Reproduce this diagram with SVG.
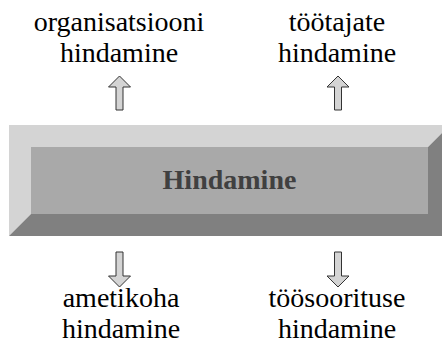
<svg xmlns="http://www.w3.org/2000/svg" width="442" height="352" viewBox="0 0 442 352">
<style>
.arrow{fill:#d4d4d4;stroke:#333;stroke-width:1;stroke-linejoin:miter}
</style>
<rect width="442" height="352" fill="#fff"/>
<g id="hindamine">
<polygon points="9,125 450,125 428,147 31,147 31,214 9,236" fill="#d4d4d4"/>
<polygon points="450,125 450,236 9,236 31,214 428,214 428,147" fill="#808080"/>
<rect x="31" y="147" width="397" height="67" fill="#a9a9a9"/>
<text x="229.5" y="189" font-family="Liberation Serif" font-size="28" font-weight="bold" fill="#404040" text-anchor="middle">Hindamine</text>
</g>
<g id="organisatsiooni" font-size="28" text-anchor="middle">
<text x="119" y="31" font-family="Liberation Serif">organisatsiooni</text>
<text x="119" y="62" font-family="Liberation Serif">hindamine</text>
</g>
<g id="tootajate" font-size="28" text-anchor="middle">
<text x="337" y="31" font-family="Liberation Serif">töötajate</text>
<text x="337" y="62" font-family="Liberation Serif">hindamine</text>
</g>
<g id="ametikoha" font-size="28" text-anchor="middle">
<text x="121" y="307" font-family="Liberation Serif">ametikoha</text>
<text x="121" y="338" font-family="Liberation Serif">hindamine</text>
</g>
<g id="toosoorituse" font-size="28" text-anchor="middle">
<text x="337" y="307" font-family="Liberation Serif">töösoorituse</text>
<text x="337" y="338" font-family="Liberation Serif">hindamine</text>
</g>
<g id="connectors">
<polygon class="arrow" points="119.5,76 130.5,87 123,87 123,110 116,110 116,87 108.5,87"/>
<polygon class="arrow" points="338,76 349,87 341.5,87 341.5,110 334.5,110 334.5,87 327,87"/>
<polygon class="arrow" points="119.5,287 130.5,276 123,276 123,252 116,252 116,276 108.5,276"/>
<polygon class="arrow" points="338,287 349,276 341.5,276 341.5,252 334.5,252 334.5,276 327,276"/>
</g>
</svg>
